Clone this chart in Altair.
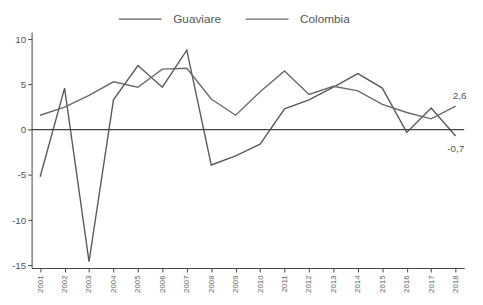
import altair as alt
import pandas as pd

years = list(range(2001, 2019))
guaviare = [-5.2, 4.6, -14.6, 3.3, 7.1, 4.7, 8.8, -3.9, -2.9, -1.6, 2.3, 3.3, 4.7, 6.2, 4.6, -0.3, 2.4, -0.7]
colombia = [1.6, 2.5, 3.8, 5.3, 4.7, 6.7, 6.8, 3.4, 1.6, 4.2, 6.5, 3.9, 4.8, 4.3, 2.8, 1.9, 1.2, 2.6]
series_names = ["Guaviare", "Colombia"]
end_labels = ["-0,7", "2,6"]

rows = []
for name, vals in zip(series_names, [guaviare, colombia]):
    for y, v in zip(years, vals):
        rows.append({"year": y, "value": v, "serie": name})
df = pd.DataFrame(rows)

lab_g = pd.DataFrame({"year": [years[-1]], "value": [guaviare[-1]], "label": [end_labels[0]]})
lab_c = pd.DataFrame({"year": [years[-1]], "value": [colombia[-1]], "label": [end_labels[1]]})

gray = "#5a5a5a"
xscale = alt.Scale(domain=[2000.65, 2018.35], nice=False, zero=False)
yscale = alt.Scale(domain=[-15.3, 10.8], nice=False, zero=False)

xaxis = alt.Axis(values=years, format="d", labelAngle=-90, title=None,
                 grid=False, labelFontSize=8, labelColor="#666",
                 labelOverlap=False, labelBound=False,
                 domainColor="#444", tickColor="#444", tickSize=4,
                 labelPadding=3)
yaxis = alt.Axis(values=[-15, -10, -5, 0, 5, 10], title=None, grid=False,
                 labelFontSize=10, labelColor="#555", domainColor="#444",
                 tickColor="#444", tickSize=4, labelPadding=2,
                 labelExpr="replace(datum.label, '\u2212', '-')")

lines = alt.Chart(df).mark_line(strokeWidth=1.4).encode(
    x=alt.X("year:Q", scale=xscale, axis=xaxis),
    y=alt.Y("value:Q", scale=yscale, axis=yaxis),
    color=alt.Color("serie:N", sort=series_names,
                    scale=alt.Scale(domain=series_names, range=[gray, "#6a6a6a"]),
                    legend=alt.Legend(title=None, orient="none", direction="horizontal",
                                      legendX=88, legendY=-36, symbolType="stroke",
                                      symbolSize=1900, symbolStrokeWidth=1.2,
                                      labelFontSize=12, labelColor="#555",
                                      columnPadding=22, labelOffset=11)),
)

zero = alt.Chart(pd.DataFrame({"v": [0]})).mark_rule(color="#444", strokeWidth=1.2).encode(
    y=alt.Y("v:Q", scale=yscale, axis=yaxis)
)

text_g = alt.Chart(lab_g).mark_text(fontSize=10, color="#555", dy=13).encode(
    x=alt.X("year:Q", scale=xscale, axis=xaxis),
    y=alt.Y("value:Q", scale=yscale, axis=yaxis),
    text="label:N",
)
text_c = alt.Chart(lab_c).mark_text(fontSize=10, color="#555", dx=4, dy=-10).encode(
    x=alt.X("year:Q", scale=xscale, axis=xaxis),
    y=alt.Y("value:Q", scale=yscale, axis=yaxis),
    text="label:N",
)

chart = alt.layer(lines, zero, text_g, text_c).properties(
    width=440, height=240,
    autosize=alt.AutoSizeParams(type="none"),
    padding={"left": 24, "top": 22, "right": 11, "bottom": 27},
).configure(font="Liberation Sans").configure_view(stroke=None).configure_axisX(labelOverlap=False)

chart.save("out.html", embed_options={"renderer": "svg", "actions": False})
